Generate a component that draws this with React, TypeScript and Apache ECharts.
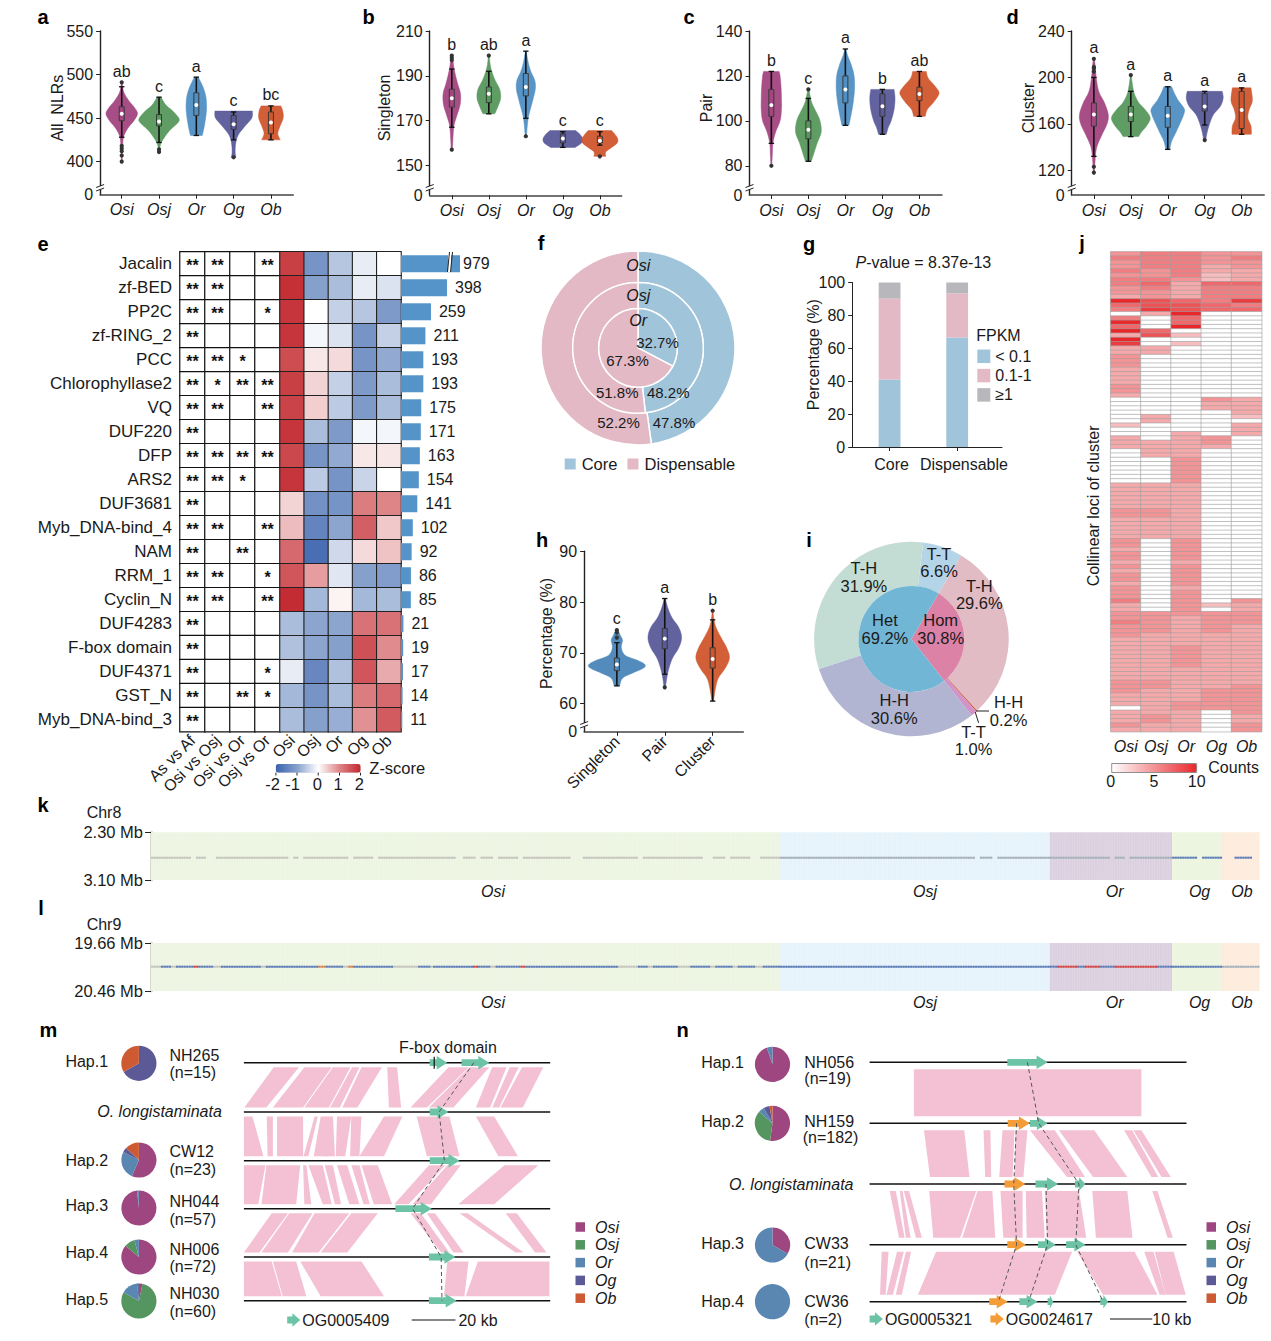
import React, { useEffect, useRef } from "react";
import * as echarts from "echarts";

const FONT = "Liberation Sans";
const species = ["Osi", "Osj", "Or", "Og", "Ob"];
const violinColors = ["#a34580", "#56985c", "#4f8fc3", "#5a5a9a", "#d0562d"];
const pieColors: Record<string, string> = { Osi: "#9e467f", Osj: "#55955f", Or: "#5a86b2", Og: "#5b5a96", Ob: "#cd5a32" };

// ---- panel a: All NLRs. Density profiles [value, relative width]
const aOsi = [[400,.02],[415,.04],[428,.09],[438,.3],[447,.62],[455,.8],[462,.65],[470,.36],[480,.1],[491,.02]];
const aOsj = [[411,.02],[420,.08],[428,.28],[436,.55],[445,.97],[450,1],[458,.7],[465,.35],[474,.1]];
const aOr = [[430,.3],[440,.4],[455,.5],[465,.52],[475,.48],[485,.35],[497,.1]];
const aOg = [[405,.12],[410,.08],[420,.1],[430,.22],[440,.55],[450,.92],[458,.95]];
const aOb = [[425,.47],[432,.35],[440,.45],[450,.62],[458,.6],[464,.5]];
const aBoxes = [[447,455,463,428,486],[441,446,454,422,474],[453,465,479,430,497],[437,443,453,425,457],[432,445,457,425,464]];
const aOutliers = [[400,407,412,415,418,491],[411,414],[],[405],[]];
const aLetters = ["ab","c","a","c","bc"];
const aTicks = [400,450,500,550];

// ---- panel b: Singleton
const bOsi = [[157,.03],[167,.1],[172,.25],[177,.42],[182,.44],[187,.28],[193,.12],[199,.03]];
const bOsj = [[173,.3],[176,.45],[180,.6],[184,.55],[188,.32],[192,.15],[195,.07],[199,.02]];
const bOr = [[163,.03],[171,.12],[178,.32],[184,.48],[188,.45],[192,.25],[196,.12],[201,.02]];
const bOg = [[158,.62],[160,.95],[162,1],[164,.85],[165.5,.65]];
const bOb = [[154,.3],[156,.3],[158,.6],[160,.88],[162,.9],[164,.75],[165.5,.6]];
const bBoxes = [[176,180,184,167,193],[178,182,185,173,192],[181,185,191,171,201],[160,162,164,158,165],[160,161,163,159,165]];
const bOutliers = [[157,197,198,199],[199],[163],[],[154]];
const bLetters = ["b","ab","a","c","c"];
const bTicks = [150,170,190,210];

// ---- panel c: Pair
const cOsi = [[80,.02],[85,.05],[90,.08],[95,.22],[100,.45],[105,.52],[110,.52],[115,.5],[120,.45],[122,.4]];
const cOsj = [[82,.15],[86,.3],[90,.45],[95,.66],[100,.6],[104,.4],[108,.18],[112,.07],[114,.03]];
const cOr = [[98,.18],[103,.3],[108,.4],[114,.47],[120,.45],[125,.3],[129,.12],[132,.02]];
const cOg = [[94,.2],[97,.3],[100,.45],[105,.6],[110,.65],[114,.6]];
const cOb = [[102,.3],[105,.4],[108,.7],[111,.95],[113,1],[116,.75],[119,.45],[122,.35]];
const cBoxes = [[102,107,114,90,122],[92,96,100,82,110],[108,114,120,98,132],[102,106.5,112,94,114],[109,112,115,102,122]];
const cOutliers = [[80],[114],[],[],[]];
const cLetters = ["b","c","a","b","ab"];
const cTicks = [80,100,120,140];

// ---- panel d: Cluster
const dOsi = [[118,.03],[130,.07],[140,.15],[150,.4],[160,.68],[168,.74],[178,.55],[188,.25],[200,.12],[210,.07],[216,.02]];
const dOsj = [[149,.4],[153,.55],[158,.8],[165,1],[172,.75],[178,.42],[185,.2],[192,.1],[202,.02]];
const dOr = [[138,.1],[145,.2],[152,.4],[160,.62],[168,.82],[173,.85],[180,.55],[186,.35],[192,.2]];
const dOg = [[146,.05],[153,.13],[160,.25],[168,.45],[175,.8],[182,.95],[188,.9]];
const dOb = [[151,.5],[158,.48],[165,.32],[172,.38],[180,.55],[191,.48]];
const dBoxes = [[158,168,178,132,200],[162,168,175,149,188],[157,167,175,138,192],[171,175,186,159,188],[156,172,188,151,191]];
const dOutliers = [[118,123,205,208,209,216],[202],[],[146],[]];
const dLetters = ["a","a","a","a","a"];
const dTicks = [120,160,200,240];

// ---- panel h: percentage
const hCategories = ["Singleton","Pair","Cluster"];
const hSingleton = [[63.5,.1],[65,.2],[66,.55],[67,.95],[67.7,1],[68.5,.75],[69.5,.3],[71,.16],[72.5,.2],[73.5,.12],[74.5,.04]];
const hPair = [[63,.02],[65,.07],[67,.15],[69,.28],[71,.5],[73,.6],[75,.5],[77,.25],[79,.1],[80.7,.02]];
const hCluster = [[60.5,.03],[63,.1],[65,.2],[67,.45],[69,.6],[71,.5],[73,.3],[75,.12],[76.5,.05],[78.3,.01]];
const hBoxes = [[66.5,67.7,69,63.5,72],[70.8,72.8,74.8,65.8,80.7],[67,68.8,71,60.5,76.5]];
const hOutliers = [[73,74,74.5],[63.2],[78.3]];
const hLetters = ["c","a","b"];
const hTicks = [60,70,80,90];

// ---- panel e
const families = ["Jacalin","zf-BED","PP2C","zf-RING_2","PCC","Chlorophyllase2","VQ","DUF220","DFP","ARS2","DUF3681","Myb_DNA-bind_4","NAM","RRM_1","Cyclin_N","DUF4283","F-box domain","DUF4371","GST_N","Myb_DNA-bind_3"];
const familyCounts = [979,398,259,211,193,193,175,171,163,154,141,102,92,86,85,21,19,17,14,11];
const comparisons = ["As vs Af","Osi vs Osj","Osi vs Or","Osj vs Or"];
const significance = [[2,2,0,2],[2,2,0,0],[2,2,0,1],[2,0,0,0],[2,2,1,0],[2,1,2,2],[2,2,0,2],[2,0,0,0],[2,2,2,2],[2,2,1,0],[2,0,0,0],[2,2,0,2],[2,0,2,0],[2,2,0,1],[2,2,0,2],[2,0,0,0],[2,0,0,0],[2,0,0,1],[2,0,2,1],[2,0,0,0]];
const zScores = [
  [1.75,-1.2,-.6,-.2,0],[1.9,-1,-.7,-.2,-.3],[1.85,0,-.5,-.6,-1.1],[1.85,-.1,-.3,-1.2,-.5],[1.6,.2,.3,-1.2,-.9],
  [1.75,.35,-.5,-1.1,-.7],[1.7,.4,-.55,-1.1,-.7],[1.85,-.7,-1.1,-.1,-.1],[1.65,-1.2,-.9,.2,.2],[1.85,-.55,-1.2,-.45,0],
  [.35,-1.25,-1.2,1.1,1],[.55,-1.45,-.95,1.4,.45],[1.3,-1.8,-.4,.3,.5],[1.5,.8,-.25,-1,-1.05],[1.95,-.75,.1,-.75,-.7],
  [-.7,-.95,-.95,1.2,1.2],[-.65,-.95,-1,1.55,.95],[-.2,-1.4,-.65,1.5,.7],[-.75,-1.2,-.7,1.1,1.3],[-.7,-1,-.85,.9,1.45],
];

// ---- panel f
const fOsi = [47.8,52.2];
const fOsj = [48.2,51.8];
const fOr = [32.7,67.3];
const fNames = ["Core","Dispensable"];

// ---- panel g
const gLow = [41,66.5];
const gMid = [49.2,27];
const gHigh = [9.8,6.5];
const gCategories = ["Core","Dispensable"];
const gLegend = ["< 0.1","0.1-1","≥1"];

// ---- panel i
const iInnerNames = ["Hom","Het"];
const iInner = [30.8,69.2];
const iOuterNames = ["T-T","T-H","H-H","T-T","H-H","T-H"];
const iOuter = [6.6,29.6,.2,1,30.6,31.9];

// ---- panel j, one character per locus (a = 10)
const jOsi = "56556566554a76"+"06a7a4a944"+"5554444554"+"00000030044400000000"+"4444445544444"+"55455454554555"+"644"+"5565554444444444555444"+"0"+"44454";
const jOsj = "66665567655889"+"4000780044"+"0000000000"+"00004400004444000000"+"4444445544444"+"00000000000000000"+"5555544444"+"4444445544"+"44445544";
const jOr = "66666654444788"+"a77a030300"+"0000000000"+"00000000444444555555"+"4444444444444"+"55555455555455555"+"5444444455"+"5554444444"+"45544444";
const jOg = "55544337666677"+"00000000000000000000"+"54400000055400000000"+"0000000000000000000000000000"+"30"+"5555544444"+"4444444455"+"555"+"00000";
const jOb = "56554447666967"+"00000000000000000000"+"44443044400000000000"+"000000000000000000000000000"+"544"+"5554444444"+"4444444555"+"55554455";
const jColumns = [jOsi,jOsj,jOr,jOg,jOb];

// ---- panels k, l: samples per species and runs along the locus
const sampleCounts = [252,108,49,20,15];
const sampleLabelAt = [137,310,386,420,437];
const kChromosome = "Chr8";
const lChromosome = "Chr9";
const kRange = [2.3,3.1];
const lRange = [19.66,20.46];
const kLocus = 2.726;
const lLocus = 20.055;
const kRuns: [string,number][] = [["g",16],["n",2],["g",4],["n",4],["g",29],["n",2],["g",2],["n",2],["g",18],["n",2],["g",8],["n",2],["g",31],["n",3],["g",5],["n",2],["g",5],["n",2],["g",8],["n",2],["g",19],["n",5],["g",22],["n",2],["g",24],["n",4],["g",5],["n",2],["g",8],["n",4],["g",8],["s",78],["n",2],["s",5],["n",2],["s",21],["s",24],["n",2],["s",4],["n",2],["s",17],["b",10],["n",2],["b",8],["n",5],["b",7],["n",3]];
const lRuns: [string,number][] = [["g",4],["b",4],["g",2],["b",7],["r",2],["b",6],["g",3],["b",16],["g",2],["b",21],["o",3],["b",7],["g",2],["o",2],["b",16],["g",10],["b",5],["g",1],["b",16],["r",2],["b",5],["g",2],["b",10],["r",2],["b",37],["g",8],["b",4],["g",2],["b",10],["g",5],["b",8],["g",2],["b",7],["g",2],["b",7],["g",3],["b",7],["b",108],["b",3],["r",8],["b",3],["r",6],["b",6],["r",17],["b",6],["b",20],["s",15]];

// ---- panels m, n: hap pies in counts
const mHapNames = ["Hap.1","Hap.2","Hap.3","Hap.4","Hap.5"];
const mPies: [string,number][][] = [[["Og",10],["Ob",5]],[["Osi",13],["Or",6],["Og",1],["Ob",3]],[["Osi",56],["Or",1]],[["Osi",62],["Osj",7],["Or",3]],[["Osi",2],["Osj",48],["Or",9],["Og",1]]];
const nPies: [string,number][][] = [[["Osi",18],["Or",1]],[["Osi",95],["Osj",62],["Or",10],["Og",10],["Ob",5]],[["Osi",7],["Or",14]],[["Or",2]]];

// Track positions along each aligned region and ribbons [upper track, upper start, upper end, lower start, lower end]
const mTrackPos = [0,49.3,98,146,194.3,238];
const mExtent = [597,1347];
const mRibbons = [
  [0,670,732,598,652],[0,745,812,668,742],[0,815,858,745,805],[0,862,880,808,832],[0,885,935,838,875],[0,948,972,952,982],[0,1098,1148,1005,1045],[0,1150,1198,1050,1110],[0,1205,1240,1165,1200],[0,1248,1270,1205,1222],[0,1278,1330,1225,1280],
  [1,597,618,597,645],[1,653,668,655,668],[1,678,742,678,742],[1,770,778,743,755],[1,785,800,768,805],[1,798,815,790,820],[1,825,860,822,845],[1,860,885,857,880],[1,940,985,880,940],[1,1020,1100,1045,1125],[1,1165,1210,1220,1268],
  [2,597,650,597,632],[2,652,735,640,725],[2,742,750,745,762],[2,755,790,790,812],[2,795,815,820,835],[2,825,850,855,880],[2,860,880,890,905],[2,885,925,915,960],[2,1050,1090,965,1000],[2,1095,1128,1010,1055],[2,1235,1318,1122,1210],
  [3,665,705,597,635],[3,708,765,640,705],[3,770,855,715,780],[3,860,925,785,850],[3,1005,1030,1080,1100],[3,1045,1065,1110,1135],[3,1125,1145,1262,1282],[3,1238,1265,1310,1338],
  [4,597,665,597,690],[4,668,725,692,750],[4,735,885,785,940],[4,1095,1147,1087,1137],[4,1170,1345,1140,1345],
];
// Genes [track position, start, end, family]
const mGenes = [[0,1052,1095,0],[0,1130,1198,0],[49.3,1052,1098,0],[98,1052,1125,0],[146,968,1057,0],[194.3,1050,1115,0],[238,1050,1118,0],[257.3,703,735,0]];
const mChains = [[[1160,0],[1075,49.3],[1088,98],[1010,146],[1080,194.3],[1082,238]]];
const mScale = [1008,1115];
const mScaleAt = 257.3;
const mMark = [1063,-6,6];

const nTrackPos = [0,61,121.7,182.4,239.4];
const nExtent = [570,1357];
const nRibbons = [
  [0,680,1245,680,1245],
  [1,705,805,720,818],[1,853,870,857,872],[1,900,930,892,925],[1,932,962,930,952],[1,968,1030,1060,1105],[1,1040,1128,1125,1210],[1,1202,1222,1270,1287],[1,1225,1245,1295,1318],
  [2,620,635,643,657],[2,645,652,660,672],[2,655,668,685,700],[2,718,835,728,795],[2,838,875,800,882],[2,895,950,902,950],[2,958,998,960,1005],[2,1005,1090,1010,1108],[2,1123,1210,1132,1223],[2,1272,1285,1310,1323],
  [3,600,617,596,610],[3,638,655,612,628],[3,660,673,635,650],[3,735,1073,690,1030],[3,1085,1228,1150,1285],[3,1252,1275,1290,1305],[3,1278,1325,1305,1355],
];
const nGenes = [[0,912,1012,0],[61,913,968,1],[61,968,1012,0],[121.7,905,957,1],[121.7,982,1038,0],[121.7,1080,1106,0],[182.4,912,958,1],[182.4,988,1032,0],[182.4,1058,1106,0],[239.4,867,913,1],[239.4,942,987,0],[239.4,1012,1026,0],[239.4,1143,1162,0],[256.7,570,603,0],[256.7,870,903,1]];
const nChains = [
  [[962,0],[990,61],[1090,121.7],[1082,182.4],[1150,239.4]],
  [[935,61],[928,121.7],[935,182.4],[890,239.4]],
  [[1008,121.7],[1012,182.4],[965,239.4]],
];
const nScale = [1167,1272];
const nScaleAt = 256.7;

// ---------- helpers ----------
const txt = (x: number, y: number, text: string, o: any = {}) => ({
  type: "text", x, y, z: 100, silent: true, rotation: o.rotation || 0,
  style: {
    text, fontFamily: FONT, fontSize: o.size || 16, fontWeight: o.weight || "normal", fontStyle: o.italic ? "italic" : "normal",
    fill: o.fill || "#1a1a1a", textAlign: o.align || "left", align: o.align || "left", textVerticalAlign: "middle", verticalAlign: "middle",
    ...(o.rich ? { rich: o.rich } : {}),
  },
});
const seg = (x1: number, y1: number, x2: number, y2: number, stroke = "#222", lineWidth = 1) => ({
  type: "line", z: 101, silent: true, shape: { x1, y1, x2, y2 }, style: { stroke, lineWidth },
});

const catmull = (pts: number[][]) => {
  const out: number[][] = [];
  for (let i = 0; i < pts.length - 1; i++) {
    const p0 = pts[Math.max(i - 1, 0)], p1 = pts[i], p2 = pts[i + 1], p3 = pts[Math.min(i + 2, pts.length - 1)];
    for (let k = 0; k < 6; k++) {
      const t = k / 6, t2 = t * t, t3 = t2 * t;
      const f = (a: number, b: number, c: number, d: number) => 0.5 * (2 * b + (c - a) * t + (2 * a - 5 * b + 4 * c - d) * t2 + (3 * b - a - 3 * c + d) * t3);
      out.push([f(p0[0], p1[0], p2[0], p3[0]), Math.max(0, f(p0[1], p1[1], p2[1], p3[1]))]);
    }
  }
  out.push(pts[pts.length - 1]);
  return out;
};

function build() {
  const grid: any[] = [], xAxis: any[] = [], yAxis: any[] = [], series: any[] = [], visualMap: any[] = [], legend: any[] = [], g: any[] = [];

  const addGrid = (left: number, top: number, right: number, bottom: number) => {
    grid.push({ left, top, width: right - left, height: bottom - top, containLabel: false });
    return grid.length - 1;
  };

  const violinPanel = (cfg: any) => {
    const { axisX, endX, top, bottom, leftPad, rightPad, yMin, yMax, ticks, names, profiles, boxes, outliers, letters, colors, scale, rotate, breakY } = cfg;
    const gi = addGrid(axisX, top, endX, bottom);
    const n = names.length;
    xAxis.push({
      type: "value", gridIndex: gi, min: -leftPad, max: n - 1 + rightPad, splitLine: { show: false },
      axisLine: { onZero: false, lineStyle: { color: "#444", width: 1.5 } },
      axisTick: { length: 4, lineStyle: { color: "#222" }, customValues: names.map((_: any, i: number) => i) },
      axisLabel: {
        customValues: names.map((_: any, i: number) => i), formatter: (v: number) => names[Math.round(v)],
        fontFamily: FONT, fontSize: 16, fontStyle: rotate ? "normal" : "italic", color: "#1a1a1a", margin: 7, rotate: rotate || 0,
      },
    });
    yAxis.push({
      type: "value", gridIndex: gi, min: yMin, max: yMax, splitLine: { show: false },
      axisLine: { show: true, onZero: false, lineStyle: { color: "#222", width: 1.4 } },
      axisTick: { length: 4, lineStyle: { color: "#222" }, customValues: [...ticks] },
      axisLabel: {
        customValues: [yMin, ...ticks], formatter: (v: number) => (v === yMin ? "0" : String(v)),
        fontFamily: FONT, fontSize: 16, color: "#1a1a1a", margin: 7,
      },
    });
    series.push({
      type: "custom", coordinateSystem: "cartesian2d", xAxisIndex: gi, yAxisIndex: gi, silent: true,
      data: boxes.map((b: number[], i: number) => [i, b[1]]), encode: { x: 0, y: 1 },
      renderItem: (params: any, api: any) => {
        const i = params.dataIndex;
        const cx = api.coord([i, boxes[i][1]])[0];
        const py = (v: number) => api.coord([i, v])[1];
        const curve = catmull(profiles[i].map((p: number[]) => [py(p[0]), p[1] * scale]));
        const right = curve.map((p) => [cx + p[1], p[0]]);
        const left = curve.slice().reverse().map((p) => [cx - p[1], p[0]]);
        const [q1, med, q3, lo, hi] = boxes[i];
        const children: any[] = [
          { type: "polygon", shape: { points: [...right, ...left] }, style: { fill: colors[i], stroke: colors[i], lineWidth: 0.5, opacity: 0.95 } },
          { type: "line", shape: { x1: cx, y1: py(lo), x2: cx, y2: py(hi) }, style: { stroke: "#111", lineWidth: 1.6 } },
          { type: "line", shape: { x1: cx - 2.7, y1: py(lo), x2: cx + 2.7, y2: py(lo) }, style: { stroke: "#111", lineWidth: 1.3 } },
          { type: "line", shape: { x1: cx - 2.7, y1: py(hi), x2: cx + 2.7, y2: py(hi) }, style: { stroke: "#111", lineWidth: 1.3 } },
          { type: "rect", shape: { x: cx - 2.5, y: py(q3), width: 5, height: py(q1) - py(q3) }, style: { fill: colors[i], stroke: "#3a3a3a", lineWidth: 1 } },
          { type: "circle", shape: { cx, cy: py(med), r: 2 }, style: { fill: "#fff" } },
        ];
        outliers[i].forEach((v: number) => children.push({ type: "circle", shape: { cx, cy: py(v), r: 2.1 }, style: { fill: "#333" } }));
        const topValue = Math.max(hi, ...outliers[i]);
        children.push({
          type: "text",
          style: { x: cx, y: py(topValue) - 11, text: letters[i], fontFamily: FONT, fontSize: 16, fill: "#1a1a1a", textAlign: "center", align: "center", textVerticalAlign: "middle", verticalAlign: "middle" },
        });
        return { type: "group", children };
      },
    });
    g.push({ type: "rect", z: 100, silent: true, shape: { x: axisX - 2, y: breakY - 2, width: 4, height: 3.5 }, style: { fill: "#fff" } });
    g.push(seg(axisX - 4, breakY - 0.5, axisX + 4, breakY - 3.5));
    g.push(seg(axisX - 4, breakY + 3, axisX + 4, breakY));
  };

  violinPanel({ axisX: 100.1, endX: 293.3, top: 31, bottom: 194.7, leftPad: .58, rightPad: .6, yMin: 362, yMax: 550, ticks: aTicks, names: species, profiles: [aOsi,aOsj,aOr,aOg,aOb], boxes: aBoxes, outliers: aOutliers, letters: aLetters, colors: violinColors, scale: 19.7, breakY: 188 });
  violinPanel({ axisX: 429.7, endX: 621.7, top: 31, bottom: 195.3, leftPad: .597, rightPad: .59, yMin: 136.6, yMax: 210, ticks: bTicks, names: species, profiles: [bOsi,bOsj,bOr,bOg,bOb], boxes: bBoxes, outliers: bOutliers, letters: bLetters, colors: violinColors, scale: 19.7, breakY: 188 });
  violinPanel({ axisX: 749.5, endX: 942, top: 31, bottom: 195, leftPad: .59, rightPad: .61, yMin: 67, yMax: 140, ticks: cTicks, names: species, profiles: [cOsi,cOsj,cOr,cOg,cOb], boxes: cBoxes, outliers: cOutliers, letters: cLetters, colors: violinColors, scale: 19.4, breakY: 188 });
  violinPanel({ axisX: 1071.7, endX: 1264.2, top: 31, bottom: 195, leftPad: .6, rightPad: .61, yMin: 98.7, yMax: 240, ticks: dTicks, names: species, profiles: [dOsi,dOsj,dOr,dOg,dOb], boxes: dBoxes, outliers: dOutliers, letters: dLetters, colors: violinColors, scale: 19.4, breakY: 188 });
  violinPanel({ axisX: 584.1, endX: 743.3, top: 551.3, bottom: 731.8, leftPad: .684, rightPad: .64, yMin: 54.45, yMax: 90, ticks: hTicks, names: hCategories, profiles: [hSingleton,hPair,hCluster], boxes: hBoxes, outliers: hOutliers, letters: hLetters, colors: ["#4a86b8","#5a5a9a","#d0562d"], scale: 28, rotate: 45, breakY: 725 });

  g.push(txt(57.2, 108, "All  NLRs", { rotation: Math.PI / 2, align: "center" }));
  g.push(txt(384.8, 108, "Singleton", { rotation: Math.PI / 2, align: "center" }));
  g.push(txt(706.5, 108, "Pair", { rotation: Math.PI / 2, align: "center" }));
  g.push(txt(1028.6, 108, "Cluster", { rotation: Math.PI / 2, align: "center" }));
  g.push(txt(546.2, 633.5, "Percentage (%)", { rotation: Math.PI / 2, align: "center" }));

  const letters: [string, number, number][] = [["a",43,17],["b",368.5,17],["c",689,17],["d",1012.5,17],["e",43,244],["f",541,243],["g",809,244],["h",542,540],["i",809,540],["j",1082,243],["k",43,805],["l",41,908],["m",48.4,1030],["n",682.5,1030]];
  letters.forEach(([t, x, y]) => g.push(txt(x, y, t, { size: 20, weight: "bold", align: "center", fill: "#000" })));

  // ---- e: significance table
  const top = 251.8, bottom = 731.7;
  const cat = (gridIndex: number, data: string[], o: any = {}) => ({ type: "category", gridIndex, data, axisLine: { show: false }, axisTick: { show: false }, splitLine: { show: false }, ...o });
  let gi = addGrid(180, top, 280, bottom);
  xAxis.push(cat(gi, comparisons, { axisLabel: { rotate: 45, fontFamily: FONT, fontSize: 16, color: "#1a1a1a", margin: 6, interval: 0 } }));
  yAxis.push(cat(gi, families, { inverse: true, axisLabel: { fontFamily: FONT, fontSize: 17, color: "#1a1a1a", margin: 8, interval: 0 } }));
  const starData: number[][] = [];
  significance.forEach((row, r) => row.forEach((s, c) => starData.push([c, r, s])));
  series.push({
    type: "heatmap", xAxisIndex: gi, yAxisIndex: gi, data: starData, silent: true, progressive: 0,
    itemStyle: { borderColor: "#111", borderWidth: 1.2 },
    label: { show: true, color: "#111", fontFamily: FONT, fontSize: 16, fontWeight: "bold", formatter: (p: any) => "*".repeat(p.value[2]), offset: [0, 2] },
  });
  visualMap.push({ show: false, seriesIndex: series.length - 1, min: 0, max: 2, inRange: { color: ["#ffffff", "#ffffff"] } });

  // ---- e: z-score heat map
  gi = addGrid(280, top, 401, bottom);
  xAxis.push(cat(gi, species, { axisLabel: { rotate: 45, fontFamily: FONT, fontSize: 16, color: "#1a1a1a", margin: 6, interval: 0 } }));
  yAxis.push(cat(gi, families, { inverse: true, show: false }));
  const zData: number[][] = [];
  zScores.forEach((row, r) => row.forEach((z, c) => zData.push([c, r, z])));
  series.push({ type: "heatmap", xAxisIndex: gi, yAxisIndex: gi, data: zData, silent: true, progressive: 0, itemStyle: { borderColor: "#222", borderWidth: 1.1 } });
  visualMap.push({ type: "continuous", seriesIndex: series.length - 1, min: -2, max: 2, orient: "horizontal", left: 275.7, top: 764, itemWidth: 8.7, itemHeight: 85, padding: 0, calculable: false, hoverLink: false, text: ["", ""], inRange: { color: ["#3a62ae", "#86a0cc", "#ffffff", "#de8588", "#c1272d"] } });
  ([["-2",272.7,275.9],["-1",292.7,297],["0",317.3,318.2],["1",338,339.5],["2",359.3,360.5]] as [string, number, number][]).forEach(([t, x, tick]) => {
    g.push(txt(x, 784.3, t, { align: "center", size: 16.5 }));
    g.push(seg(tick, 772.7, tick, 775.5));
  });
  g.push(txt(369.3, 768.3, "Z-score", { size: 16.5 }));

  // ---- e: bars, the first one broken at the right
  gi = addGrid(401, top, 460, bottom);
  xAxis.push({ type: "value", gridIndex: gi, min: 0, max: 510, show: false });
  yAxis.push(cat(gi, families, { inverse: true, show: false }));
  series.push({
    type: "bar", xAxisIndex: gi, yAxisIndex: gi, barWidth: 17, clip: true, silent: true,
    data: familyCounts.map((v, i) => ({ value: v, label: { distance: i === 0 ? 3 : 8 } })),
    itemStyle: { color: "#5494c8" },
    label: { show: true, position: "right", distance: 8, fontFamily: FONT, fontSize: 16, color: "#1a1a1a" },
  });
  g.push({ type: "rect", z: 100, silent: true, shape: { x: 448, y: 252, width: 3, height: 20 }, style: { fill: "#fff" } });
  g.push(seg(447.5, 272, 449.5, 252, "#222", 1));
  g.push(seg(450.5, 272, 452.5, 252, "#222", 1));

  // ---- f: nested pies
  const blue = "#a0c4da", pink = "#e2b9c4";
  const nestedPie = (vals: number[], r0: number, r1: number) => ({
    type: "pie", center: [638, 347.9], radius: [r0, r1], startAngle: 90, silent: true, label: { show: false }, labelLine: { show: false },
    itemStyle: { borderColor: "#fff", borderWidth: 1.5 },
    data: vals.map((v, i) => ({ name: fNames[i], value: v, itemStyle: { color: i === 0 ? blue : pink } })),
  });
  series.push(nestedPie(fOsi, 65.3, 97), nestedPie(fOsj, 39.3, 65.3), nestedPie(fOr, 0, 39.3));
  g.push(txt(638.2, 265.4, "Osi", { italic: true, align: "center" }), txt(638.2, 295.8, "Osj", { italic: true, align: "center" }), txt(638.2, 320, "Or", { italic: true, align: "center" }));
  const pct = { align: "center", size: 15 };
  g.push(txt(657.5, 342.2, `${fOr[0]}%`, pct), txt(627.5, 360.8, `${fOr[1]}%`, pct), txt(617.2, 392.3, `${fOsj[1]}%`, pct), txt(668.2, 392.3, `${fOsj[0]}%`, pct), txt(618.5, 422.6, `${fOsi[1]}%`, pct), txt(674, 422.6, `${fOsi[0]}%`, pct));
  legend.push({ data: fNames, left: 562.7, top: 455.5, orient: "horizontal", itemWidth: 13, itemHeight: 13, itemGap: 8, padding: 0, selectedMode: false, icon: "rect", textStyle: { fontFamily: FONT, fontSize: 16.5, color: "#1a1a1a" } });

  // ---- g: stacked bars, each segment from its running total
  gi = addGrid(852.2, 282.5, 1002, 447);
  xAxis.push({
    type: "value", gridIndex: gi, min: -.553, max: 1.663, splitLine: { show: false },
    axisLine: { onZero: false, lineStyle: { color: "#222" } }, axisTick: { length: 4, lineStyle: { color: "#222" }, customValues: [0, 1] },
    axisLabel: { customValues: [.03, 1.1], formatter: (v: number) => (v < .5 ? gCategories[0] : gCategories[1]), fontFamily: FONT, fontSize: 16, color: "#1a1a1a", margin: 9 },
  });
  yAxis.push({
    type: "value", gridIndex: gi, min: 0, max: 100, interval: 20, splitLine: { show: false },
    axisLine: { show: true, onZero: false, lineStyle: { color: "#222" } }, axisTick: { show: true, length: 4, lineStyle: { color: "#222" } },
    axisLabel: { fontFamily: FONT, fontSize: 16, color: "#1a1a1a", margin: 7 },
  });
  const running = [0, 0];
  ([[gLegend[0], gLow, blue], [gLegend[1], gMid, pink], [gLegend[2], gHigh, "#b8b8bc"]] as [string, number[], string][]).forEach(([name, vals, color]) => {
    const data = vals.map((v, i) => { const d = [i, running[i], running[i] + v]; running[i] += v; return d; });
    series.push({
      type: "custom", name, coordinateSystem: "cartesian2d", xAxisIndex: gi, yAxisIndex: gi, silent: true, itemStyle: { color }, data, encode: { x: 0, y: [1, 2] },
      renderItem: (p: any, api: any) => {
        const a = api.coord([api.value(0), api.value(1)]), b = api.coord([api.value(0), api.value(2)]);
        return { type: "rect", shape: { x: a[0] - 10.9, y: b[1], width: 21.8, height: a[1] - b[1] }, style: { fill: color } };
      },
    });
  });
  g.push(txt(855.6, 262.5, "{i|P}-value = 8.37e-13", { rich: { i: { fontStyle: "italic", fontFamily: FONT, fontSize: 16, fill: "#1a1a1a" } } }));
  g.push(txt(813.9, 354.7, "Percentage (%)", { rotation: Math.PI / 2, align: "center" }));
  g.push(txt(976.2, 335.8, "FPKM"));
  legend.push({ data: gLegend, left: 977.3, top: 348.3, orient: "vertical", itemWidth: 13, itemHeight: 13.5, itemGap: 3.3, padding: 0, selectedMode: false, icon: "rect", textStyle: { fontFamily: FONT, fontSize: 16, color: "#1a1a1a" } });

  // ---- i: nested pie
  const iCenter = [911.4, 639];
  const iInnerColors = ["#dc82a6", "#72b6d5"];
  const iOuterColors = ["#b4d4e8", "#e2bcc5", "#d2552c", "#d193c8", "#b1b5d1", "#c3ddd4"];
  series.push({
    type: "pie", center: iCenter, radius: [53, 97.3], startAngle: 83, silent: true, label: { show: false }, labelLine: { show: false },
    data: iOuter.map((v, i) => ({ name: `${iOuterNames[i]} ${v}%`, value: v, itemStyle: { color: iOuterColors[i] } })),
  });
  series.push({
    type: "pie", center: iCenter, radius: [0, 53], startAngle: 59, silent: true, label: { show: false }, labelLine: { show: false },
    data: iInner.map((v, i) => ({ name: iInnerNames[i], value: v, itemStyle: { color: iInnerColors[i] } })),
  });
  const twoLine = (x: number, y1: number, y2: number, a: string, b: string) => { g.push(txt(x, y1, a, { align: "center", size: 16.5 }), txt(x, y2, b, { align: "center", size: 16.5 })); };
  twoLine(939, 553.8, 571, iOuterNames[0], `${iOuter[0]}%`);
  twoLine(863.9, 568.4, 586, iOuterNames[5], `${iOuter[5]}%`);
  twoLine(979.3, 586.3, 603, iOuterNames[1], `${iOuter[1]}%`);
  twoLine(884.9, 620.3, 637.8, iInnerNames[1], `${iInner[1]}%`);
  twoLine(940.7, 620.3, 637.8, iInnerNames[0], `${iInner[0]}%`);
  twoLine(894.2, 699.6, 717.5, iOuterNames[4], `${iOuter[4]}%`);
  twoLine(1008.6, 702.1, 720, iOuterNames[2], `${iOuter[2]}%`);
  twoLine(973.5, 731.8, 749, iOuterNames[3], "1.0%");
  g.push(seg(975.9, 711, 989, 711), seg(975.2, 712, 978.6, 722.8));

  // ---- j: collinear loci
  gi = addGrid(1110.7, top, 1261.7, bottom);
  const jRows = jOsi.split("").map((_, i) => String(i + 1));
  xAxis.push(cat(gi, species, { axisLabel: { fontFamily: FONT, fontSize: 16, fontStyle: "italic", color: "#1a1a1a", margin: 7, interval: 0 } }));
  yAxis.push(cat(gi, jRows, { inverse: true, show: false }));
  const jData: number[][] = [];
  jColumns.forEach((col, c) => col.split("").forEach((ch, r) => jData.push([c, r, ch === "a" ? 10 : Number(ch)])));
  series.push({ type: "heatmap", xAxisIndex: gi, yAxisIndex: gi, data: jData, silent: true, progressive: 0, itemStyle: { borderColor: "#a0a0a0", borderWidth: .6 } });
  visualMap.push({ type: "continuous", seriesIndex: series.length - 1, min: 0, max: 10, orient: "horizontal", left: 1111.7, top: 763.5, itemWidth: 9, itemHeight: 85, padding: 0, calculable: false, hoverLink: false, text: ["", ""], inRange: { color: ["#ffffff", "#e9272b"] } });
  g.push({ type: "rect", z: 100, silent: true, shape: { x: 1111.7, y: 763.5, width: 85, height: 9 }, style: { fill: "none", stroke: "#777", lineWidth: .8 } });
  g.push(txt(1110.7, 781, "0", { align: "center" }), txt(1154, 781, "5", { align: "center" }), txt(1196.7, 781, "10", { align: "center" }), txt(1208.3, 767.7, "Counts"));
  g.push(txt(1093, 505.9, "Collinear loci of cluster", { rotation: Math.PI / 2, align: "center" }));

  // ---- k, l: sample tracks
  const groupFill = ["#edf5e2", "#e6f3fb", "#dbd0df", "#ecf5df", "#fdecdc"];
  const trackColor: Record<string, string> = { g: "#c2c2bb", s: "#a0abb8", b: "#5577b5", r: "#d13a3a", o: "#d97b45" };
  const total = sampleCounts.reduce((a, b) => a + b, 0);
  const trackPanel = (gTop: number, gBottom: number, range: number[], locus: number, runs: [string, number][], chrom: string, chromY: number) => {
    const ix = addGrid(151, gTop, 1259.5, gBottom);
    xAxis.push({
      type: "value", gridIndex: ix, min: 0, max: total, splitLine: { show: false }, axisLine: { show: false }, axisTick: { show: false },
      axisLabel: { customValues: sampleLabelAt, formatter: (v: number) => species[sampleLabelAt.indexOf(v)], fontFamily: FONT, fontSize: 16, fontStyle: "italic", color: "#1a1a1a", margin: 3 },
    });
    yAxis.push({
      type: "value", gridIndex: ix, inverse: true, min: range[0], max: range[1], splitLine: { show: false },
      axisLine: { show: true, onZero: false, lineStyle: { color: "#d8d8ce", width: 3 } }, axisTick: { length: 6, lineStyle: { color: "#222" }, customValues: range },
      axisLabel: { customValues: range, formatter: (v: number) => `${v.toFixed(2)} Mb`, fontFamily: FONT, fontSize: 16.5, color: "#1a1a1a", margin: 8 },
    });
    let start = 0;
    const bg = sampleCounts.map((n, i) => { const r = [start, start + n, i]; start += n; return r; });
    series.push({
      type: "custom", coordinateSystem: "cartesian2d", xAxisIndex: ix, yAxisIndex: ix, silent: true, data: bg, encode: { x: [0, 1] },
      renderItem: (p: any, api: any) => {
        const a = api.value(0), b = api.value(1), idx = api.value(2);
        const p0 = api.coord([a, range[0]]), p1 = api.coord([b, range[1]]);
        const zig: number[][] = [];
        for (let s = a + 1; s < b; s++) {
          const x = api.coord([s, range[0]])[0];
          if ((s - a) % 2) zig.push([x, p0[1]], [x, p1[1]]); else zig.push([x, p1[1]], [x, p0[1]]);
        }
        return { type: "group", children: [
          { type: "rect", shape: { x: p0[0], y: p0[1], width: p1[0] - p0[0], height: p1[1] - p0[1] }, style: { fill: groupFill[idx] } },
          { type: "polyline", shape: { points: zig }, style: { fill: "none", stroke: "#fff", lineWidth: .5, opacity: .3 } },
        ] };
      },
    });
    let pos = 0;
    const cells: any[] = [];
    runs.forEach(([code, len]) => { if (code !== "n") cells.push([pos, pos + len, locus, code]); pos += len; });
    series.push({
      type: "custom", coordinateSystem: "cartesian2d", xAxisIndex: ix, yAxisIndex: ix, silent: true, z: 3,
      data: cells.map((c) => [c[0], c[1], c[2]]), encode: { x: [0, 1], y: 2 },
      renderItem: (p: any, api: any) => {
        const s0 = api.value(0), s1 = api.value(1);
        const a = api.coord([s0, api.value(2)]), b = api.coord([s1, api.value(2)]);
        const dots: any[] = [];
        for (let s = s0 + 1; s < s1; s++) {
          const x = api.coord([s, api.value(2)])[0];
          dots.push({ type: "line", shape: { x1: x, y1: a[1] - 1, x2: x, y2: a[1] + 1 }, style: { stroke: "#f2f2ec", lineWidth: .5, opacity: .7 } });
        }
        return { type: "group", children: [
          { type: "rect", shape: { x: a[0], y: a[1] - 1, width: b[0] - a[0], height: 2 }, style: { fill: trackColor[cells[p.dataIndex][3]] } },
          ...dots,
        ] };
      },
    });
    g.push(txt(104, chromY, chrom, { align: "center" }));
  };
  trackPanel(832.3, 880, kRange, kLocus, kRuns, kChromosome, 812);
  trackPanel(943, 991, lRange, lLocus, lRuns, lChromosome, 924);

  // ---- m, n: synteny
  const geneColor = ["#6cc3a5", "#f39c38"];
  const syntenyPanel = (left: number, right: number, y0: number, extent: number[], tracks: number[], ribbons: number[][], genes: number[][], chains: number[][][], scaleBar: number[], scaleAt: number, inset: number, mark?: number[]) => {
    const ix = addGrid(left, y0 - 10, right, y0 + 270);
    xAxis.push({ type: "value", gridIndex: ix, min: extent[0], max: extent[1], show: false });
    yAxis.push({ type: "value", gridIndex: ix, min: -10, max: 270, inverse: true, show: false });
    series.push({
      type: "custom", coordinateSystem: "cartesian2d", xAxisIndex: ix, yAxisIndex: ix, silent: true, z: 1, clip: false,
      data: ribbons, encode: { x: [1, 2, 3, 4] },
      renderItem: (p: any, api: any) => {
        const t = api.value(0);
        const c = (x: number, tr: number) => api.coord([x, tracks[tr]]);
        const a = c(api.value(1), t), b = c(api.value(2), t), d = c(api.value(3), t + 1), e = c(api.value(4), t + 1);
        return { type: "polygon", shape: { points: [[a[0], a[1] + inset], [b[0], b[1] + inset], [e[0], e[1] - inset], [d[0], d[1] - inset]] }, style: { fill: "#f3c1d3" } };
      },
    });
    tracks.forEach((pos) => series.push({
      type: "line", xAxisIndex: ix, yAxisIndex: ix, silent: true, z: 2, symbol: "none", lineStyle: { color: "#111", width: 1.6 },
      data: [[extent[0], pos], [extent[1], pos]],
    }));
    series.push({
      type: "custom", coordinateSystem: "cartesian2d", xAxisIndex: ix, yAxisIndex: ix, silent: true, z: 3, clip: false,
      data: genes, encode: { x: [1, 2], y: 0 },
      renderItem: (p: any, api: any) => {
        const a = api.coord([api.value(1), api.value(0)]), b = api.coord([api.value(2), api.value(0)]);
        const len = b[0] - a[0], head = Math.min(11, len * .6), y = a[1], xh = b[0] - head;
        return { type: "polygon", shape: { points: [[a[0], y - 3.4], [xh, y - 3.4], [xh, y - 6.8], [b[0], y], [xh, y + 6.8], [xh, y + 3.4], [a[0], y + 3.4]] }, style: { fill: geneColor[api.value(3)] } };
      },
    });
    chains.forEach((ch) => series.push({
      type: "line", xAxisIndex: ix, yAxisIndex: ix, silent: true, z: 4, symbol: "none", lineStyle: { color: "#555", width: 1, type: [4, 3] }, data: ch,
    }));
    series.push({
      type: "line", xAxisIndex: ix, yAxisIndex: ix, silent: true, z: 2, symbol: "none", lineStyle: { color: "#111", width: 1.2 },
      data: [[scaleBar[0], scaleAt], [scaleBar[1], scaleAt]],
    });
    if (mark) series.push({
      type: "line", xAxisIndex: ix, yAxisIndex: ix, silent: true, z: 5, symbol: "none", lineStyle: { color: "#111", width: 1.2 },
      data: [[mark[0], mark[1]], [mark[0], mark[2]]],
    });
  };
  syntenyPanel(243.9, 550.2, 1062.7, mExtent, mTrackPos, mRibbons, mGenes, mChains, mScale, mScaleAt, 4.5, mMark);
  syntenyPanel(869.6, 1186.5, 1062.3, nExtent, nTrackPos, nRibbons, nGenes, nChains, nScale, nScaleAt, 7);

  const hapPie = (cx: number, cy: number, vals: [string, number][]) => ({
    type: "pie", center: [cx, cy], radius: [0, 17.6], startAngle: 90, silent: true, label: { show: false }, labelLine: { show: false },
    data: vals.map(([name, value]) => ({ name, value, itemStyle: { color: pieColors[name] } })),
  });
  [1063.3, 1160, 1208, 1257, 1301].forEach((cy, i) => series.push(hapPie(138.9, cy, mPies[i])));
  [1064.3, 1123.3, 1245, 1301.7].forEach((cy, i) => series.push(hapPie(772.5, cy, nPies[i])));

  ([[1061.7],[1160],[1205.7],[1252.7],[1299.3]] as number[][]).forEach(([y], i) => g.push(txt(65.4, y, mHapNames[i])));
  ([["NH265",1055.7],["(n=15)",1072.7],["CW12",1151.7],["(n=23)",1169.3],["NH044",1201.7],["(n=57)",1219],["NH006",1249],["(n=72)",1266],["NH030",1293.3],["(n=60)",1311]] as [string, number][]).forEach(([t, y]) => g.push(txt(169.5, y, t)));
  g.push(txt(221.8, 1111.7, "O. longistaminata", { italic: true, align: "right" }));
  g.push(txt(399, 1047.3, "F-box domain"));
  g.push(txt(302.3, 1320, "OG0005409"), txt(458.4, 1320, "20 kb"));

  ([["Hap.1",1062.3],["Hap.2",1121.7],["Hap.3",1243.7],["Hap.4",1301.7]] as [string, number][]).forEach(([t, y]) => g.push(txt(701.2, y, t)));
  ([["NH056",804.3,1062],["(n=19)",804.3,1078.3],["NH159",804.3,1121.7],["(n=182)",802.7,1137.7],["CW33",804.3,1243.7],["(n=21)",804.3,1262.3],["CW36",804.3,1301.7],["(n=2)",804.3,1319]] as [string, number, number][]).forEach(([t, x, y]) => g.push(txt(x, y, t)));
  g.push(txt(853.5, 1184.3, "O. longistaminata", { italic: true, align: "right" }));
  g.push(txt(884.9, 1319, "OG0005321"), txt(1005.7, 1319, "OG0024617"), txt(1152.3, 1319, "10 kb"));

  const speciesLegend = (left: number) => ({
    data: species, left, top: 1219, orient: "vertical", itemWidth: 9.5, itemHeight: 9.5, itemGap: 1.8, padding: 0, selectedMode: false, icon: "rect",
    textStyle: { fontFamily: FONT, fontSize: 16, fontStyle: "italic", color: "#1a1a1a", padding: [0, 0, 0, 5] },
  });
  legend.push(speciesLegend(575.5), speciesLegend(1206.5));

  return {
    animation: false,
    backgroundColor: "#ffffff",
    textStyle: { fontFamily: FONT },
    tooltip: { show: false },
    grid, xAxis, yAxis, series, visualMap, legend,
    graphic: { elements: g },
  };
}

export default function App() {
  const ref = useRef<HTMLDivElement>(null);
  useEffect(() => {
    document.body.style.margin = "0";
    const chart = echarts.init(ref.current!, undefined, { renderer: "svg" });
    chart.setOption(build() as any);
    return () => chart.dispose();
  }, []);
  return <div ref={ref} style={{ width: 1271, height: 1341 }} />;
}
